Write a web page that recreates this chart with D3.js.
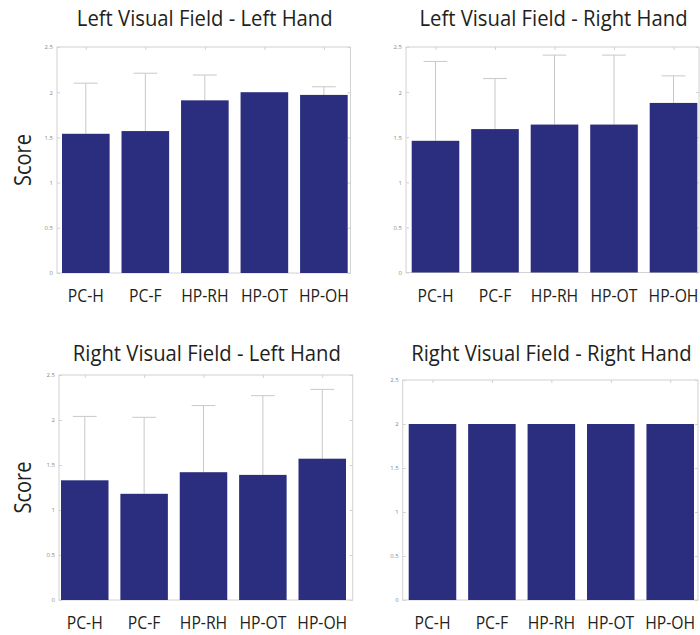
<!DOCTYPE html>
<html>
<head>
<meta charset="utf-8">
<script src="https://cdn.jsdelivr.net/npm/d3@7"></script>
<style>
  html, body { margin: 0; padding: 0; background: #fff; }
  svg { display: block; }
  text { font-family: "Open Sans", Lato, sans-serif; }
</style>
</head>
<body>
<svg id="chart" width="700" height="635"></svg>
<script>
// Groups shown along the x axis of every panel
const categories = ["PC-H", "PC-F", "HP-RH", "HP-OT", "HP-OH"];

// Y axis ticks (score)
const yTicks = [0, 0.5, 1, 1.5, 2, 2.5];

// Panel titles
const titles = [
  "Left Visual Field - Left Hand",
  "Left Visual Field - Right Hand",
  "Right Visual Field - Left Hand",
  "Right Visual Field - Right Hand"
];

// Mean scores per panel
const meanLVFLH = [1.54, 1.57, 1.91, 2.00, 1.97];
const meanLVFRH = [1.46, 1.59, 1.64, 1.64, 1.88];
const meanRVFLH = [1.33, 1.18, 1.42, 1.39, 1.57];
const meanRVFRH = [2.00, 2.00, 2.00, 2.00, 2.00];

// Standard deviations (upper error bars) per panel
const sdLVFLH = [0.56, 0.64, 0.28, 0.00, 0.09];
const sdLVFRH = [0.88, 0.56, 0.77, 0.77, 0.30];
const sdRVFLH = [0.71, 0.85, 0.74, 0.88, 0.77];
const sdRVFRH = [0.00, 0.00, 0.00, 0.00, 0.00];

const means = [meanLVFLH, meanLVFRH, meanRVFLH, meanRVFRH];
const sds = [sdLVFLH, sdLVFRH, sdRVFLH, sdRVFRH];

// Frame box, bar span and title baseline for each panel
const layout = [
  { x0: 57,  x1: 350.5, y0: 47,  y1: 273, b0: 62,  b1: 347.7, ty: 26,  yLabel: true },
  { x0: 406, x1: 699,   y0: 47,  y1: 272.5, b0: 411.7, b1: 697.3, ty: 26, yLabel: false },
  { x0: 59,  x1: 352.7, y0: 375, y1: 600, b0: 61,  b1: 346,   ty: 361, yLabel: true },
  { x0: 402.7, x1: 698, y0: 380, y1: 600, b0: 408.7, b1: 694, ty: 361, yLabel: false }
];

const barColor = "#2b2e7f";
const frameColor = "#d2d2d2";
const errColor = "#c8c8c8";
const textColor = "#231f20";

const svg = d3.select("#chart");

// natural width of a string at a given size
function textWidth(str, size) {
  const t = svg.append("text").style("font-size", size + "px").text(str);
  const w = t.node().getComputedTextLength();
  t.remove();
  return w;
}
// a narrow humanist face: keep the height, condense the width
const titleSize = 21, catSize = 17.5, scoreSize = 23;
const titleSqueeze = 256 / textWidth(titles[0], titleSize);
const catSqueeze = 47 / textWidth("HP-OT", catSize);
const scoreSqueeze = 52 / textWidth("Score", scoreSize);

// horizontally condensed text anchored at (cx, cy), optionally rotated
function condensedText(parent, str, cx, cy, size, squeeze, rotate) {
  return parent.append("text")
    .attr("transform", `translate(${cx},${cy})` + (rotate ? ` rotate(${rotate})` : "") +
      ` scale(${squeeze},1)`)
    .attr("text-anchor", "middle")
    .attr("fill", textColor)
    .style("font-size", size + "px")
    .text(str);
}

layout.forEach((L, p) => {
  const g = svg.append("g");
  const data = categories.map((c, i) => ({ c, m: means[p][i], sd: sds[p][i] }));

  const x = d3.scaleBand().domain(categories).range([L.b0, L.b1])
    .paddingInner(0.2).paddingOuter(0);
  const y = d3.scaleLinear().domain([0, 2.5]).range([L.y1, L.y0]);

  // left axis with tiny labels
  const left = g.append("g").attr("transform", `translate(${L.x0},0)`)
    .call(d3.axisLeft(y).tickValues(yTicks).tickSizeInner(-3).tickSizeOuter(0)
      .tickPadding(4).tickFormat(d3.format("")));
  left.select(".domain").remove();
  left.selectAll("line").attr("stroke", frameColor);
  left.selectAll("text").attr("fill", "#8a8a8a").style("font-size", "6px")
    .style("font-family", "\"Open Sans\", sans-serif");

  // right axis ticks
  const right = g.append("g").attr("transform", `translate(${L.x1},0)`)
    .call(d3.axisRight(y).tickValues(yTicks).tickSizeInner(-3).tickSizeOuter(0)
      .tickFormat(() => ""));
  right.select(".domain").remove();
  right.selectAll("line").attr("stroke", frameColor);

  // top ticks at bar centres
  const top = g.append("g").attr("transform", `translate(0,${L.y0})`)
    .call(d3.axisTop(d3.scalePoint().domain(categories)
      .range([x(categories[0]) + x.bandwidth() / 2,
              x(categories[categories.length - 1]) + x.bandwidth() / 2]))
      .tickSizeInner(-3).tickSizeOuter(0).tickFormat(() => ""));
  top.select(".domain").remove();
  top.selectAll("line").attr("stroke", frameColor);

  // frame
  g.append("rect")
    .attr("x", L.x0).attr("y", L.y0)
    .attr("width", L.x1 - L.x0).attr("height", L.y1 - L.y0)
    .attr("fill", "none").attr("stroke", frameColor).attr("stroke-width", 1);

  // error bars (upper half only; the lower half sits behind the bar)
  const capHalf = x.bandwidth() * 0.25;
  const eb = g.append("g").selectAll("g")
    .data(data.filter(d => d.sd > 0)).join("g");
  eb.append("line")
    .attr("x1", d => x(d.c) + x.bandwidth() / 2)
    .attr("x2", d => x(d.c) + x.bandwidth() / 2)
    .attr("y1", d => y(d.m))
    .attr("y2", d => y(d.m + d.sd))
    .attr("stroke", errColor).attr("stroke-width", 1);
  eb.append("line")
    .attr("x1", d => x(d.c) + x.bandwidth() / 2 - capHalf)
    .attr("x2", d => x(d.c) + x.bandwidth() / 2 + capHalf)
    .attr("y1", d => y(d.m + d.sd))
    .attr("y2", d => y(d.m + d.sd))
    .attr("stroke", errColor).attr("stroke-width", 1);

  // bars
  g.append("g").selectAll("rect").data(data).join("rect")
    .attr("x", d => x(d.c))
    .attr("y", d => y(d.m))
    .attr("width", x.bandwidth())
    .attr("height", d => y(0) - y(d.m))
    .attr("fill", barColor);

  // category labels
  const cats = g.append("g");
  categories.forEach(c => {
    condensedText(cats, c, x(c) + x.bandwidth() / 2, L.y1 + 29, catSize, catSqueeze);
  });

  // title
  condensedText(g, titles[p], (L.x0 + L.x1) / 2 + 1, L.ty, titleSize, titleSqueeze);

  // y label
  if (L.yLabel) {
    condensedText(g, "Score", 31, (L.y0 + L.y1) / 2, scoreSize, scoreSqueeze, -90);
  }
});
</script>
</body>
</html>
